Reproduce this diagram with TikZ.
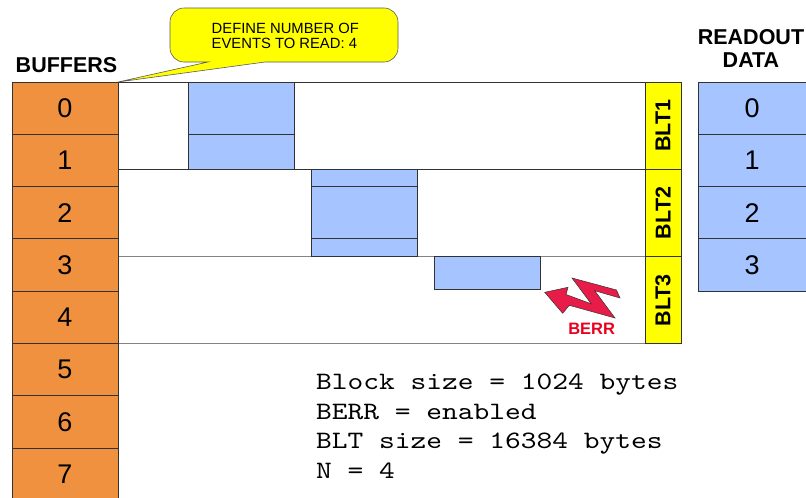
\documentclass[tikz,border=0pt]{standalone}
\usepackage{fontspec}
\setmainfont{Liberation Sans}
\newfontfamily\paramfont[FakeStretch=1.2]{lmmono10-regular.otf}
\usetikzlibrary{positioning}
\definecolor{bufcol}{RGB}{240,145,64}
\definecolor{blkcol}{RGB}{166,196,255}
\definecolor{bltcol}{RGB}{255,255,0}
\definecolor{boltcol}{RGB}{232,28,72}
\definecolor{berrcol}{RGB}{232,0,30}
\definecolor{linecol}{RGB}{50,50,50}

\begin{document}
\begin{tikzpicture}[x=1pt,y=-1pt,
 outline/.style={draw=linecol,line width=0.9pt},
 buf/.style={outline,fill=bufcol,minimum width=106pt,minimum height=52.3pt,inner sep=0pt,outer sep=0pt,font=\fontsize{27}{27}\selectfont},
 rd/.style={buf,fill=blkcol,minimum width=108pt},
 blt/.style={outline,fill=bltcol,rotate=90,minimum width=87.3pt,minimum height=36pt,inner sep=0pt,outer sep=0pt,font=\bfseries\fontsize{21.5}{21.5}\selectfont},
 blk/.style={outline,fill=blkcol},
 head/.style={font=\bfseries\fontsize{21.5}{23.5}\selectfont,inner sep=0pt},
 param/.style={anchor=base west,inner sep=0pt,font=\paramfont\fontsize{25}{25}\selectfont}]
 \useasboundingbox (0,0) rectangle (806,498);

 % BLT areas
 \draw[outline,fill=white] (118,82) rectangle (645,169.3);
 \draw[outline,fill=white] (118,169.3) rectangle (645,256.6);
 \draw[outline,draw=linecol!60,fill=white] (118,256.6) rectangle (645,343.9);

 % blocks read by each BLT
 \draw[blk] (188,82) rectangle (294,134.3);
 \draw[blk] (188,134.3) rectangle (294,169.3);
 \draw[blk] (311,169.3) rectangle (417,186.6);
 \draw[blk] (311,186.6) rectangle (417,238.9);
 \draw[blk] (311,238.9) rectangle (417,256.6);
 \draw[blk] (434,256.6) rectangle (540.5,289);

 % buffers
 \node[head,anchor=base] (buflabel) at (66.5,72.3) {BUFFERS};
 \node[buf] (b0) at (65,108.15) {0};
 \node[buf] (b1) [below=0pt of b0] {1};
 \node[buf] (b2) [below=0pt of b1] {2};
 \node[buf] (b3) [below=0pt of b2] {3};
 \node[buf] (b4) [below=0pt of b3] {4};
 \node[buf] (b5) [below=0pt of b4] {5};
 \node[buf] (b6) [below=0pt of b5] {6};
 \node[buf] (b7) [below=0pt of b6] {7};

 % BLT strips
 \node[blt] (blt1) at (663,125.65) {BLT1};
 \node[blt] (blt2) at (663,212.95) {BLT2};
 \node[blt] (blt3) at (663,300.25) {BLT3};

 % readout data
 \node[head,align=center,anchor=south] (rdlabel) at (751,67.7) {READOUT\\DATA};
 \node[rd] (r0) at (752,108.15) {0};
 \node[rd] (r1) [below=0pt of r0] {1};
 \node[rd] (r2) [below=0pt of r1] {2};
 \node[rd] (r3) [below=0pt of r2] {3};

 % callout
 \draw[draw=linecol!80,line width=0.6pt,fill=bltcol] (208,62) -- (b0.north east) -- (265,62)
  [rounded corners=14pt] -- (398,62) -- (398,8) -- (170,8) -- (170,62) [sharp corners] -- cycle;
 \node[anchor=south west,align=left,inner sep=0pt,font=\fontsize{14.8}{15.6}\selectfont] (evtnote) at (211.5,49.3) {DEFINE NUMBER OF\\EVENTS TO READ: 4};

 % bus error
 \draw[fill=boltcol,draw=linecol,line width=0.5pt,line join=miter] (544.7,292.3) -- (568,287.3) -- (566,294.5)
  -- (591.2,303.8) -- (572,278) -- (616.5,290) -- (620,298) -- (594.7,290.7) -- (615,318)
  -- (569.3,305.3) -- (562.7,313.3) -- cycle;
 \node[font=\bfseries\fontsize{16.5}{16.5}\selectfont,text=berrcol,inner sep=0pt] (berr) at (591.7,329.2) {BERR};

 % settings
 \node[param] (p1) at (316,389.3) {Block size = 1024 bytes};
 \node[param] (p2) at (316,419.1) {BERR = enabled};
 \node[param] (p3) at (316,448.9) {BLT size = 16384 bytes};
 \node[param] (p4) at (316,478.7) {N = 4};
\end{tikzpicture}
\end{document}
